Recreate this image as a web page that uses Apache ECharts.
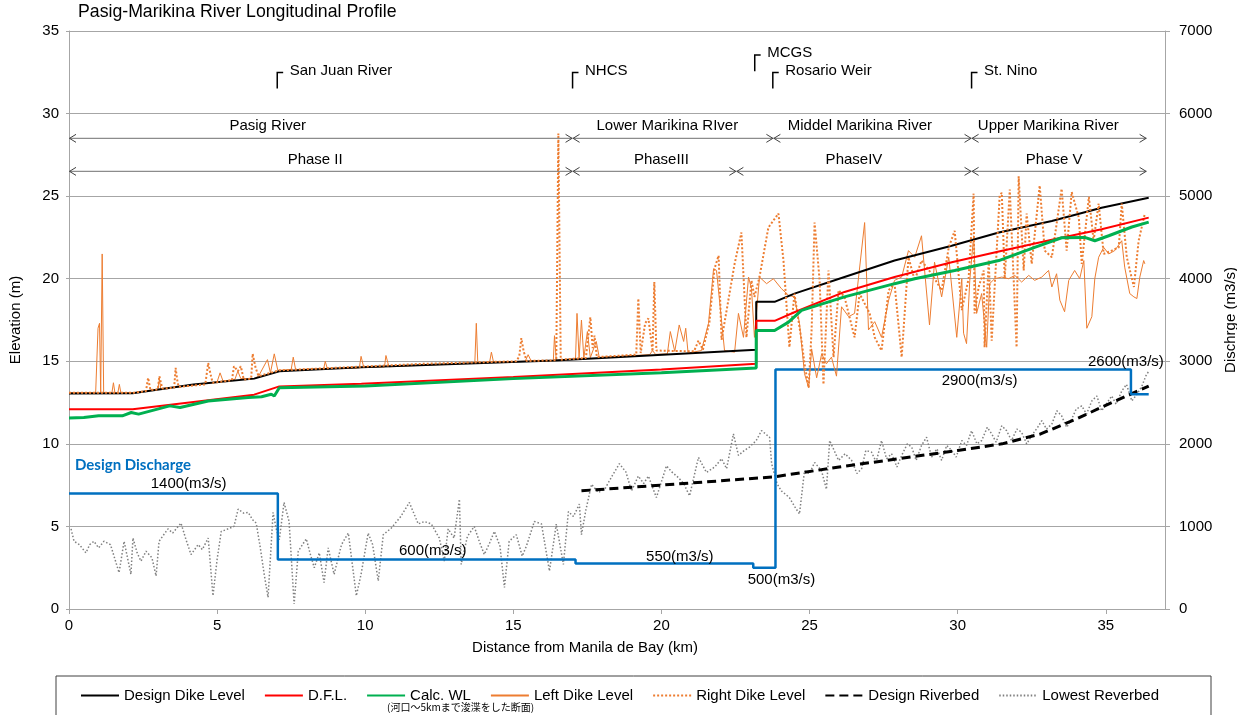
<!DOCTYPE html>
<html><head><meta charset="utf-8">
<script src="https://cdn.jsdelivr.net/npm/echarts@6/dist/echarts.min.js"></script>
<style>html,body{margin:0;padding:0;background:#fff}#c{width:1237px;height:715px}</style>
</head><body><div id="c"></div>
<script>
// ---------- data (km, m) ----------
const xTicks = [0,5,10,15,20,25,30,35];

const designDike = [[0,13.05],[2.15,13.06],[4.2,13.6],[6.25,13.95],[7.1,14.4],[9.87,14.64],[16.4,15.05],[23.2,15.7],[23.2,18.6],[23.82,18.6],[24.49,19.1],[26.18,20.1],[27.87,21.1],[29.8,22.0],[31.39,22.8],[33.18,23.5],[34.86,24.3],[36.45,24.9]];

const dfl = [[0,12.1],[2.15,12.1],[6.25,12.98],[7.1,13.48],[9.87,13.64],[15,14.05],[20,14.5],[23.2,14.85],[23.2,17.45],[23.82,17.45],[24.49,17.97],[26.18,19.2],[27.87,20.1],[29.8,21.0],[31.39,21.65],[33.18,22.36],[34.86,23.0],[36.45,23.7]];

const calcWL = [[0,11.57],[0.5,11.6],[1.0,11.7],[1.8,11.7],[2.1,11.9],[2.35,11.8],[3.4,12.3],[3.75,12.2],[4.7,12.6],[6.05,12.8],[6.5,12.85],[6.83,13.0],[6.93,12.9],[7.1,13.4],[10,13.5],[15,13.95],[20,14.3],[23.2,14.6],[23.2,16.86],[23.82,16.86],[24.29,17.37],[24.73,18.08],[26.18,18.9],[27.87,19.7],[28.55,20.0],[29.9,20.5],[31.39,21.1],[32.6,21.9],[33.51,22.48],[34.29,22.5],[34.63,22.3],[35.1,22.6],[35.88,23.13],[36.45,23.43]];

const leftDike = [[0,13.1],[0.9,13.1],[0.98,17.0],[1.03,17.3],[1.07,13.1],[1.12,21.5],[1.17,13.1],[1.45,13.1],[1.5,13.7],[1.55,13.1],[1.65,13.1],[1.7,13.6],[1.75,13.1],[2.2,13.1],[3.0,13.3],[3.05,13.9],[3.1,13.35],[4.0,13.5],[5.0,13.75],[5.1,14.3],[5.2,13.8],[5.6,13.9],[5.7,14.4],[5.8,13.95],[6.25,13.95],[6.4,14.1],[6.7,15.1],[6.8,14.3],[6.93,15.45],[7.05,14.45],[7.5,14.5],[7.57,15.25],[7.65,14.5],[8.6,14.55],[8.65,15.0],[8.72,14.56],[9.8,14.6],[9.86,15.3],[9.95,14.63],[10.65,14.66],[10.7,15.35],[10.8,14.67],[13.7,14.9],[13.75,17.3],[13.8,14.92],[14.2,14.95],[14.26,15.55],[14.33,14.96],[15.4,15.0],[15.5,15.4],[15.6,15.02],[16.35,15.05],[16.39,16.55],[16.45,15.06],[17.1,15.15],[17.15,17.9],[17.22,15.2],[17.3,17.5],[17.38,15.2],[17.5,16.8],[17.6,15.22],[17.8,16.2],[17.9,15.24],[19.6,15.4],[19.7,15.65],[19.8,15.42],[20.2,15.45],[20.3,16.8],[20.45,15.6],[20.6,17.2],[20.75,16.2],[20.82,17.0],[20.9,15.5],[21.35,15.65],[21.59,17.3],[21.76,20.6],[21.86,20.5],[21.96,18.7],[22.13,15.65],[22.47,15.55],[22.6,17.9],[22.77,16.45],[22.94,20.1],[23.04,19.4],[23.14,16.45],[23.31,20.1],[23.55,19.7],[23.78,20.0],[24.05,19.4],[24.29,19.0],[24.49,18.9],[24.66,17.3],[24.83,14.25],[24.97,13.4],[25.07,15.75],[25.24,14.0],[25.41,15.45],[25.57,14.85],[25.74,15.25],[25.91,14.1],[26.08,18.3],[26.32,17.7],[26.52,17.9],[26.86,23.4],[26.99,16.9],[27.2,17.4],[27.43,16.45],[27.67,18.7],[27.87,19.9],[28.11,20.1],[28.34,21.7],[28.55,21.3],[28.78,22.6],[29.05,17.2],[29.22,21.0],[29.46,18.9],[29.7,21.3],[29.97,16.45],[30.14,20.0],[30.2,16.7],[30.3,16.07],[30.41,19.9],[30.54,22.6],[30.64,17.9],[30.81,19.1],[30.98,15.85],[31.08,19.7],[31.25,20.0],[31.49,20.1],[31.72,20.0],[31.93,20.2],[32.16,19.8],[32.4,20.2],[32.6,19.9],[32.84,20.1],[33.07,20.5],[33.18,19.5],[33.34,20.3],[33.45,18.7],[33.61,18.0],[33.75,19.9],[33.95,20.5],[34.12,20.0],[34.26,21.1],[34.36,17.0],[34.53,17.7],[34.63,20.0],[34.76,21.3],[34.93,21.9],[35.1,21.5],[35.3,21.7],[35.54,22.3],[35.64,20.7],[35.81,19.1],[35.95,18.9],[36.05,18.8],[36.15,20.1],[36.28,21.1],[36.32,20.9]];

const rightDike = [[0,13.1],[2.2,13.1],[2.6,13.2],[2.67,14.0],[2.75,13.25],[3.0,13.3],[3.05,14.1],[3.15,13.35],[3.55,13.4],[3.6,14.6],[3.65,13.9],[3.7,13.45],[4.6,13.6],[4.7,14.9],[4.78,14.2],[4.85,13.7],[5.5,13.85],[5.57,14.7],[5.7,14.4],[5.8,14.7],[5.9,13.9],[6.15,13.95],[6.2,15.45],[6.3,14.6],[6.4,14.1],[7.1,14.45],[12,14.85],[15.1,15.0],[15.2,15.3],[15.27,16.4],[15.35,15.6],[15.45,15.02],[16.45,15.06],[16.52,28.8],[16.6,15.1],[17.45,15.2],[17.6,17.67],[17.68,15.8],[17.74,16.55],[17.82,15.25],[19.15,15.4],[19.22,18.8],[19.3,15.5],[19.45,17.3],[19.56,17.6],[19.7,15.6],[19.76,19.8],[19.83,15.65],[21.1,15.6],[21.25,16.25],[21.4,15.7],[21.62,17.37],[21.79,20.6],[21.93,21.4],[22.03,16.3],[22.47,20.9],[22.7,22.8],[22.87,16.45],[23.04,19.9],[23.14,18.9],[23.31,20.1],[23.61,23.1],[23.95,23.95],[24.12,21.1],[24.32,15.85],[24.49,19.1],[24.73,16.25],[24.83,14.85],[24.97,13.4],[25.07,16.9],[25.17,23.4],[25.34,19.9],[25.47,13.6],[25.64,20.5],[25.81,15.25],[25.98,19.3],[26.18,18.9],[26.52,16.45],[26.69,19.1],[27.03,17.9],[27.2,16.45],[27.43,15.65],[27.67,19.3],[27.87,19.7],[28.11,15.25],[28.34,21.3],[28.55,19.9],[28.78,21.1],[29.12,20.3],[29.46,19.3],[29.7,21.9],[29.9,22.9],[30.14,18.1],[30.37,20.0],[30.54,25.15],[30.57,17.9],[30.71,19.5],[30.88,20.5],[30.91,15.85],[31.05,21.1],[31.15,16.25],[31.42,25.05],[31.49,25.2],[31.59,20.0],[31.76,25.4],[31.99,15.85],[32.06,26.2],[32.23,20.5],[32.33,23.95],[32.5,20.9],[32.77,25.65],[32.94,21.7],[33.18,21.3],[33.51,25.45],[33.68,21.7],[33.85,25.25],[34.09,23.7],[34.19,20.9],[34.43,24.95],[34.59,22.3],[34.76,24.55],[34.93,21.5],[35.2,21.7],[35.44,21.9],[35.54,24.55],[35.71,21.3],[35.95,19.5],[36.11,22.3],[36.32,23.95]];

const designBed = [[17.3,7.16],[20,7.5],[23.8,8.0],[26,8.6],[28,9.1],[30,9.6],[31.5,10.0],[32.8,10.6],[34,11.5],[35.2,12.5],[36.45,13.5]];

const lowestBed = [[0.07,4.85],[0.17,4.1],[0.35,3.9],[0.57,3.4],[0.7,3.9],[0.84,4.1],[1.0,3.7],[1.18,4.1],[1.4,3.9],[1.69,2.2],[1.86,4.1],[2.09,2.1],[2.16,4.3],[2.3,3.4],[2.43,2.9],[2.6,3.5],[2.8,3.1],[2.94,2.0],[3.04,4.1],[3.34,4.85],[3.5,4.6],[3.78,5.2],[3.95,4.2],[4.12,3.3],[4.36,3.9],[4.5,3.6],[4.70,4.3],[4.86,0.8],[5.0,3.0],[5.14,4.7],[5.3,4.8],[5.57,5.0],[5.71,6.05],[5.9,5.8],[6.05,5.85],[6.2,5.4],[6.32,5.2],[6.45,3.8],[6.59,2.1],[6.72,0.7],[6.89,5.85],[6.99,4.9],[7.1,4.2],[7.26,6.45],[7.43,5.3],[7.60,0.3],[7.74,3.5],[8.01,4.25],[8.15,3.3],[8.28,2.5],[8.45,3.4],[8.61,1.6],[8.75,3.7],[8.95,2.1],[9.2,3.9],[9.43,4.6],[9.70,0.8],[9.86,2.1],[10.10,4.6],[10.25,3.9],[10.44,1.7],[10.61,4.5],[10.88,4.9],[11.2,5.6],[11.49,6.45],[11.79,5.15],[12.0,5.3],[12.23,5.15],[12.5,4.3],[12.67,2.9],[12.80,4.85],[13.0,4.3],[13.18,6.65],[13.24,2.7],[13.45,4.4],[13.68,5.0],[13.85,4.1],[14.02,3.3],[14.2,4.0],[14.36,4.7],[14.55,3.8],[14.70,1.3],[14.86,4.1],[15.10,4.5],[15.3,3.2],[15.44,3.8],[15.71,5.3],[15.95,5.15],[16.22,2.3],[16.45,5.15],[16.69,2.7],[16.86,5.9],[17.03,5.6],[17.23,6.35],[17.30,4.5],[17.45,6.0],[17.64,7.55],[17.87,7.05],[18.1,7.3],[18.35,8.1],[18.58,8.8],[18.8,8.3],[18.99,7.15],[19.22,8.05],[19.4,7.6],[19.56,8.05],[19.83,6.75],[20.17,8.67],[20.35,8.3],[20.57,7.96],[20.75,7.6],[20.95,6.85],[21.25,9.18],[21.52,8.27],[21.8,8.6],[22.03,9.1],[22.20,8.5],[22.43,10.6],[22.60,9.3],[22.8,9.6],[22.97,9.8],[23.2,10.2],[23.38,10.8],[23.65,10.4],[23.72,8.8],[23.9,7.6],[24.05,7.15],[24.32,6.75],[24.5,6.2],[24.66,5.75],[24.83,8.37],[25.0,8.2],[25.17,8.87],[25.4,8.4],[25.57,7.25],[25.68,10.2],[25.98,9.0],[26.2,9.4],[26.42,9.0],[26.6,8.2],[26.76,8.5],[26.9,9.6],[27.09,9.5],[27.25,8.9],[27.43,10.2],[27.6,9.1],[27.77,9.4],[27.95,8.6],[28.11,9.3],[28.3,10.0],[28.45,9.8],[28.6,9.0],[28.78,9.9],[28.95,10.4],[29.12,9.2],[29.3,9.7],[29.46,9.0],[29.63,9.9],[29.80,9.6],[29.95,9.2],[30.14,10.2],[30.3,9.9],[30.47,10.8],[30.65,10.0],[30.81,10.2],[31.0,11.0],[31.15,10.6],[31.3,10.1],[31.49,11.1],[31.65,10.8],[31.82,10.2],[32.0,10.9],[32.16,10.7],[32.33,10.0],[32.50,10.5],[32.7,11.0],[32.84,11.4],[33.0,10.9],[33.18,11.2],[33.35,12.0],[33.51,11.7],[33.68,11.0],[33.85,11.5],[34.0,12.1],[34.19,12.3],[34.35,11.8],[34.53,12.6],[34.7,12.9],[34.86,12.0],[35.05,12.5],[35.20,12.9],[35.35,12.4],[35.54,13.2],[35.7,13.6],[35.88,12.6],[36.05,13.0],[36.22,13.5],[36.35,14.1],[36.45,14.4]];

// design discharge (km, m3/s), drawn as steps
const discharge = [[0,1400],[7.05,600],[17.1,550],[23.1,500],[23.85,2900],[35.85,2600],[36.45,2600]];

// annotations
const riverSpans = [[0,17.0,'Pasig River',6.71],[17.0,23.78,'Lower Marikina RIver',20.2],[23.78,30.47,'Middel Marikina River',26.7],[30.47,36.38,'Upper Marikina River',33.06]];
const phaseSpans = [[0,17.0,'Phase II',8.31],[17.0,22.53,'PhaseIII',20.0],[22.53,30.47,'PhaseIV',26.5],[30.47,36.38,'Phase V',33.26]];
const stations = [['San Juan River',7.03,32.49],['NHCS',17.0,32.49],['MCGS',23.15,33.54],['Rosario Weir',23.76,32.49],['St. Nino',30.47,32.49]];
const dischargeLabels = [['1400(m3/s)',4.04,7.55],['600(m3/s)',12.28,3.52],['550(m3/s)',20.62,3.18],['500(m3/s)',24.05,1.79],['2900(m3/s)',30.74,13.83],['2600(m3/s)',35.68,14.98]];

// ---------- chart ----------
const FONT = '"Liberation Sans", Arial, sans-serif';
const chart = echarts.init(document.getElementById('c'));

const spans = riverSpans.map(s => ({x1:s[0], x2:s[1], text:s[2], lx:s[3], y:28.5, ly:29.25}))
  .concat(phaseSpans.map(s => ({x1:s[0], x2:s[1], text:s[2], lx:s[3], y:26.5, ly:27.17})));

function spanRender(params, api) {
  const s = spans[params.dataIndex];
  const p1 = api.coord([s.x1, s.y]), p2 = api.coord([s.x2, s.y]), lp = api.coord([s.lx, s.ly]);
  const st = {stroke:'#404040', fill:'none', lineWidth:1};
  return {type:'group', children:[
    {type:'line', shape:{x1:p1[0], y1:p1[1], x2:p2[0], y2:p2[1]}, style:{stroke:'#8c8c8c', lineWidth:1.2}},
    {type:'polyline', shape:{points:[[p1[0]+7,p1[1]-4],[p1[0]+0.5,p1[1]],[p1[0]+7,p1[1]+4]]}, style:st},
    {type:'polyline', shape:{points:[[p2[0]-7,p2[1]-4],[p2[0]-0.5,p2[1]],[p2[0]-7,p2[1]+4]]}, style:st},
    {type:'text', x:lp[0], y:lp[1], style:{text:s.text, fill:'#000', font:'15px ' + FONT, align:'center', verticalAlign:'middle'}}
  ]};
}
function stationRender(params, api) {
  const s = stations[params.dataIndex];
  const p = api.coord([s[1], s[2]]), pb = api.coord([s[1], s[2]-0.97]), ph = api.coord([s[1]+0.2, s[2]]);
  const tp = api.coord([s[1]+0.42, s[2]+0.12]);
  return {type:'group', children:[
    {type:'polyline', shape:{points:[pb, p, ph]}, style:{stroke:'#000', fill:'none', lineWidth:1.5}},
    {type:'text', x:tp[0], y:tp[1], style:{text:s[0], fill:'#000', font:'15px ' + FONT, align:'left', verticalAlign:'middle'}}
  ]};
}
function qLabelRender(params, api) {
  const s = dischargeLabels[params.dataIndex];
  const p = api.coord([s[1], s[2]]);
  return {type:'text', x:p[0], y:p[1], style:{text:s[0], fill:'#000', font:'15px ' + FONT, align:'center', verticalAlign:'middle'}};
}

const axisGrey = '#a6a6a6';
chart.setOption({
  animation: false,
  backgroundColor: '#fff',
  title: {text:'Pasig-Marikina River Longitudinal Profile', left:78, top:3, padding:0,
          textStyle:{fontFamily:FONT, fontSize:17.7, fontWeight:'normal', color:'#000'}},
  grid: {left:69, right:72, top:31, bottom:106, containLabel:false, outerBoundsMode:'none'},
  legend: {
    left:80, top:688, itemWidth:38, itemHeight:14, itemGap:19, padding:0,
    itemStyle:{opacity:0},
    textStyle:{fontFamily:FONT, fontSize:15, color:'#000'},
    data:['Design Dike Level','D.F.L.','Calc. WL','Left Dike Level','Right Dike Level','Design Riverbed','Lowest Reverbed']
  },
  graphic: [
    {type:'rect', shape:{x:56, y:676, width:1155, height:60}, style:{fill:'none', stroke:'#404040', lineWidth:1}, z:-1},
    {type:'text', x:387, y:707, style:{text:'(河口～5kmまで浚渫をした断面)', fill:'#000', font:'10px "Noto Sans CJK JP", sans-serif', verticalAlign:'middle'}},
    {type:'text', x:75, y:465, style:{text:'Design Discharge', fill:'#0070C0', font:'bold 15px Lato, sans-serif', verticalAlign:'middle'}}
  ],
  xAxis: {
    type:'value', min:0, max:37, interval:5,
    name:'Distance from Manila de Bay (km)', nameLocation:'middle', nameGap:31,
    nameTextStyle:{fontFamily:FONT, fontSize:15, color:'#000', padding:[0,64,0,0]},
    axisLine:{show:true, lineStyle:{color:axisGrey, width:1}},
    axisTick:{show:true, length:5, lineStyle:{color:axisGrey}, customValues:xTicks},
    axisLabel:{fontFamily:FONT, fontSize:15, color:'#000', margin:9, customValues:xTicks},
    splitLine:{show:false}
  },
  yAxis: [{
    type:'value', min:0, max:35, interval:5,
    name:'Elevation (m)', nameLocation:'middle', nameRotate:90, nameGap:46,
    nameTextStyle:{fontFamily:FONT, fontSize:15, color:'#000'},
    axisLine:{show:true, lineStyle:{color:axisGrey, width:1}},
    axisTick:{show:true, length:3, lineStyle:{color:axisGrey}},
    axisLabel:{fontFamily:FONT, fontSize:15, color:'#000', margin:10},
    splitLine:{show:true, lineStyle:{color:axisGrey, width:1}}
  }, {
    type:'value', min:0, max:7000, interval:1000, position:'right',
    name:'Dischrge (m3/s)', nameLocation:'middle', nameRotate:90, nameGap:51,
    nameTextStyle:{fontFamily:FONT, fontSize:15, color:'#000'},
    axisLine:{show:true, lineStyle:{color:axisGrey, width:1}},
    axisTick:{show:true, length:5, lineStyle:{color:axisGrey}},
    axisLabel:{fontFamily:FONT, fontSize:15, color:'#000', margin:14, formatter: v => String(v)},
    splitLine:{show:false}
  }],
  series: [
    {name:'Lowest Reverbed', type:'line', data:lowestBed, symbol:'none', lineStyle:{color:'#7f7f7f', width:1.5, type:[1.5,2]}, itemStyle:{color:'#7f7f7f'}},
    {name:'Design Riverbed', type:'line', data:designBed, symbol:'none', lineStyle:{color:'#000', width:3, type:[9,5]}, itemStyle:{color:'#000'}},
    {name:'Design Discharge', type:'line', yAxisIndex:1, step:'end', data:discharge, symbol:'none', lineStyle:{color:'#0070C0', width:2.5}, itemStyle:{color:'#0070C0'}},
    {name:'Left Dike Level', type:'line', data:leftDike, symbol:'none', lineStyle:{color:'#ED7D31', width:1}, itemStyle:{color:'#ED7D31'}},
    {name:'Design Dike Level', type:'line', data:designDike, symbol:'none', lineStyle:{color:'#000', width:2}, itemStyle:{color:'#000'}},
    {name:'Right Dike Level', type:'line', data:rightDike, symbol:'none', lineStyle:{color:'#ED7D31', width:2, type:[2,2]}, itemStyle:{color:'#ED7D31'}},
    {name:'D.F.L.', type:'line', data:dfl, symbol:'none', lineStyle:{color:'#FF0000', width:2}, itemStyle:{color:'#FF0000'}},
    {name:'Calc. WL', type:'line', data:calcWL, symbol:'none', lineStyle:{color:'#00B050', width:3}, itemStyle:{color:'#00B050'}},
    {name:'spans', type:'custom', silent:true, clip:false, data:spans.map(s => [s.x1, s.y, s.x2]), encode:{x:[0,2], y:1}, renderItem:spanRender, z:5},
    {name:'stations', type:'custom', silent:true, clip:false, data:stations.map(s => [s[1], s[2]]), encode:{x:0, y:1}, renderItem:stationRender, z:5},
    {name:'qlabels', type:'custom', silent:true, clip:false, data:dischargeLabels.map(s => [s[1], s[2]]), encode:{x:0, y:1}, renderItem:qLabelRender, z:5}
  ]
});
</script>
</body></html>
